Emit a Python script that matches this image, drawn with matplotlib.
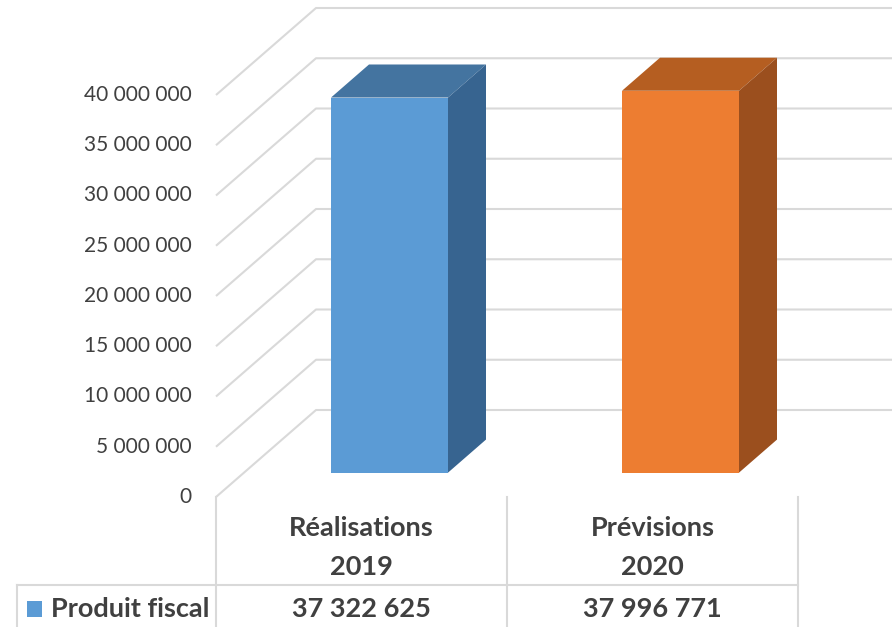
import numpy as np
import matplotlib
matplotlib.use("Agg")
import matplotlib.pyplot as plt
from matplotlib.patches import Polygon

plt.rcParams['font.family'] = ['Lato', 'DejaVu Sans']

categories = ["Réalisations\n2019", "Prévisions\n2020"]
values = [37322625, 37996771]
value_labels = ["37 322 625", "37 996 771"]
series_name = "Produit fiscal"
ticks = np.arange(0, 40000001, 5000000)
tick_labels = ["0", "5 000 000", "10 000 000", "15 000 000", "20 000 000",
               "25 000 000", "30 000 000", "35 000 000", "40 000 000"]

front_colors = ["#5b9bd5", "#ed7d31"]
top_colors = ["#4474a0", "#b55e21"]
side_colors = ["#376490", "#9b4f1e"]
grid_color = "#d9d9d9"
text_color = "#404040"

# pixel geometry of the figure (892 x 627 at 100 dpi)
W, H = 892, 627
px_per_cat = 291.0           # width of one category slot
px_per_unit = 10.05e-6       # pixels per value unit
x0_px = 216 + px_per_cat * 0.5   # pixel x of category 0 centre
y0_px = 497                  # pixel y of the value 0 on the front plane

# oblique depth of the 3d box, in data units
depth_dx = 100 / px_per_cat
depth_dy = 87 / px_per_unit
bar_t0, bar_t1 = 0.28, 0.66  # front/back of the bars inside the box
bar_half = 117 / 2 / px_per_cat

fig = plt.figure(figsize=(W / 100, H / 100), dpi=100)
ax = fig.add_axes([0, 0, 1, 1])
ax.set_xlim((0 - x0_px) / px_per_cat, (W - x0_px) / px_per_cat)
ax.set_ylim((y0_px - H) / px_per_unit, y0_px / px_per_unit)
ax.axis("off")

left = -0.5
right = len(categories) - 0.5
xmax = ax.get_xlim()[1]


def proj(c, v, t):
    return (c + t * depth_dx, v + t * depth_dy)


def py(p):
    # pixel row -> value coordinate
    return (y0_px - p) / px_per_unit


def pxc(p):
    # pixel column -> category coordinate
    return (p - x0_px) / px_per_cat


# gridlines: diagonal on the side wall, then along the back wall
for v in ticks:
    fx, fy = proj(left, v, 0)
    bx, by = proj(left, v, 1)
    ax.plot([fx, bx, xmax], [fy, by, by], color=grid_color, lw=1.5,
            solid_capstyle="butt", zorder=1)

# tick labels
lab_x = left - 24 / px_per_cat
for v, lab in zip(ticks, tick_labels):
    ax.text(lab_x, v, lab, ha="right", va="center", fontsize=15,
            color=text_color, zorder=5)

# 3d columns
for i, v in enumerate(values):
    xl, xr = i - bar_half, i + bar_half
    fl_b = proj(xl, 0, bar_t0)
    fr_b = proj(xr, 0, bar_t0)
    fl_t = proj(xl, v, bar_t0)
    fr_t = proj(xr, v, bar_t0)
    bl_t = proj(xl, v, bar_t1)
    br_t = proj(xr, v, bar_t1)
    br_b = proj(xr, 0, bar_t1)
    ax.add_patch(Polygon([fl_t, fr_t, br_t, bl_t], closed=True,
                         facecolor=top_colors[i], edgecolor="none", zorder=3))
    ax.add_patch(Polygon([fr_b, br_b, br_t, fr_t], closed=True,
                         facecolor=side_colors[i], edgecolor="none", zorder=3))
    ax.add_patch(Polygon([fl_b, fr_b, fr_t, fl_t], closed=True,
                         facecolor=front_colors[i], edgecolor="none", zorder=4))

# data table below the plot
row_line = py(585)
table_left = pxc(17)
for k in range(len(categories) + 1):
    xk = left + k
    ax.plot([xk, xk], [py(497), py(H)], color=grid_color, lw=1.5, zorder=1)
ax.plot([table_left, table_left], [row_line, py(H)], color=grid_color, lw=1.5)
ax.plot([table_left, right], [row_line, row_line], color=grid_color, lw=1.5)

bold = dict(fontsize=19.5, fontweight="bold", color=text_color)
for i, cat in enumerate(categories):
    line1, line2 = cat.split("\n")
    ax.text(i, py(528), line1, ha="center", va="center", **bold)
    ax.text(i, py(567), line2, ha="center", va="center", **bold)
    ax.text(i, py(609), value_labels[i], ha="center", va="center", **bold)

ax.add_patch(Polygon([(pxc(27), py(601)), (pxc(42), py(601)),
                      (pxc(42), py(617)), (pxc(27), py(617))],
                     closed=True, facecolor=front_colors[0], edgecolor="none"))
ax.text(pxc(51), py(609), series_name, ha="left", va="center", **bold)

fig.savefig("out.png", dpi=100)
